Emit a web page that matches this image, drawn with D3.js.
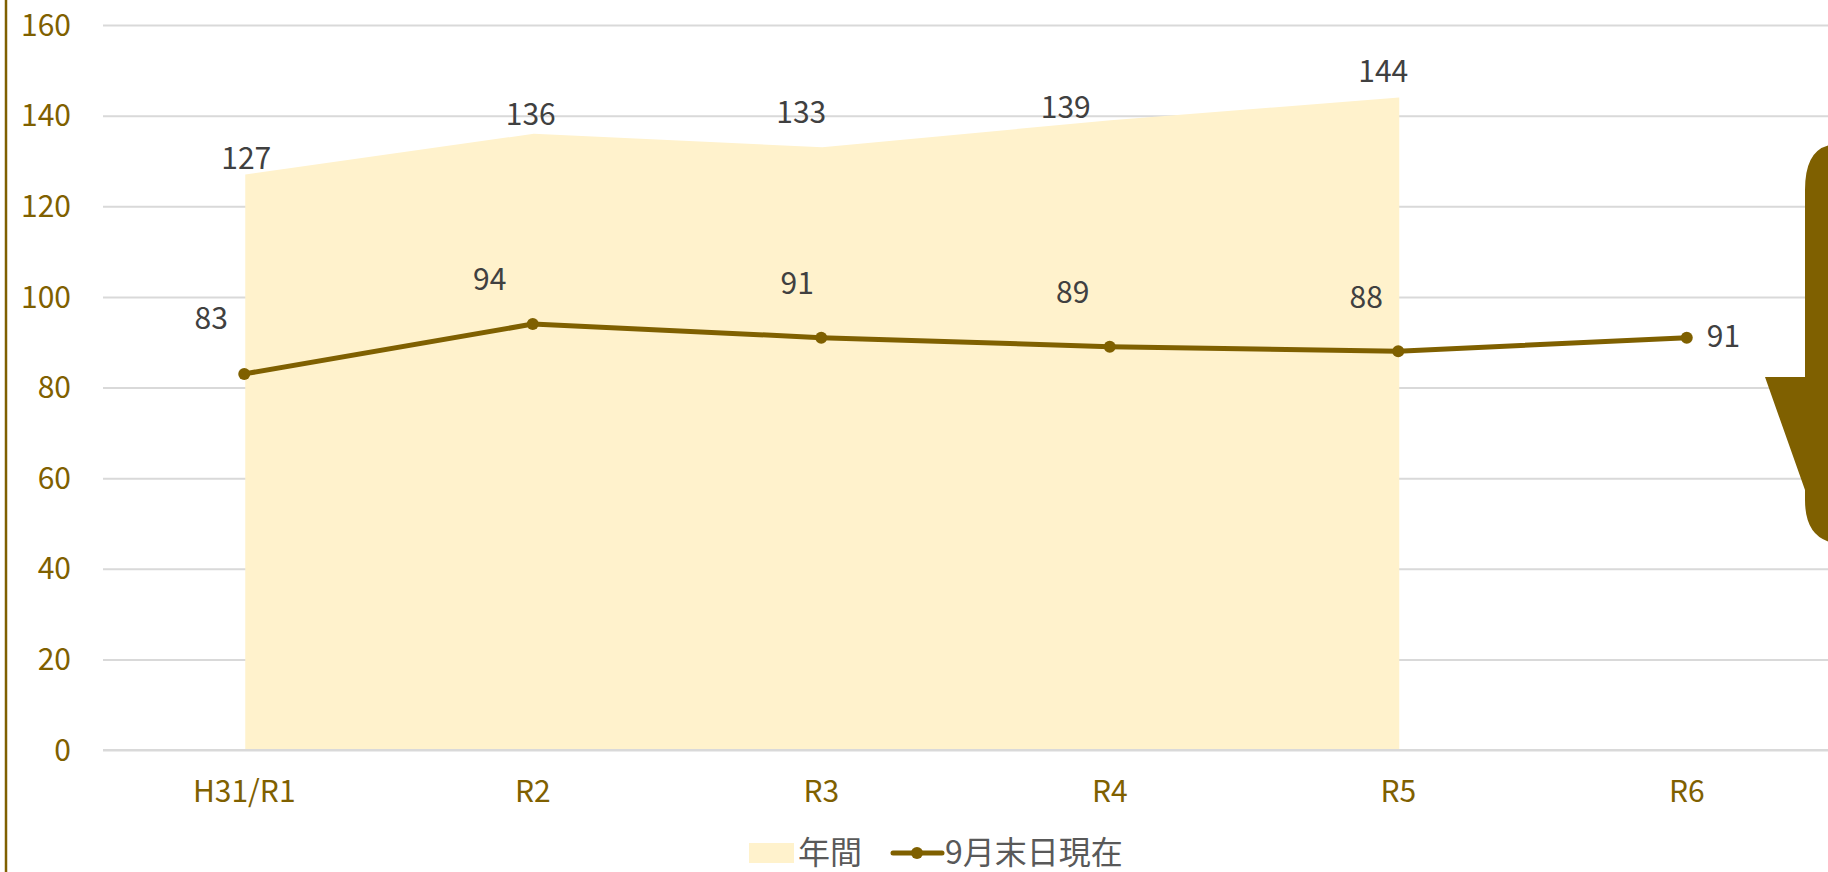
<!DOCTYPE html>
<html>
<head>
<meta charset="utf-8">
<script src="https://cdn.jsdelivr.net/npm/d3@7"></script>
<style>
  html, body { margin: 0; padding: 0; background: #ffffff; }
  svg { display: block; }
  text { font-family: "Noto Sans CJK JP", "Noto Sans", sans-serif; }
</style>
</head>
<body>
<svg id="chart" width="1828" height="872"></svg>
<script>
// ---- data ----
const categories = ["H31/R1", "R2", "R3", "R4", "R5", "R6"];
const annualValues = [127, 136, 133, 139, 144, null];
const septemberValues = [83, 94, 91, 89, 88, 91];
const yTicks = [0, 20, 40, 60, 80, 100, 120, 140, 160];
const seriesNames = ["年間", "9月末日現在"];

// ---- label placement (layout, not data) ----
const annualLabelOffsets = [[2, -6], [-2, -9], [-20, -24], [-44, -2], [-15, -16]];
const septLabelOffsets = [[-33, -45], [-43, -34], [-24, -44], [-37, -44], [-32, -43], [20, 9]];

// ---- colours ----
const gold = "#7F6000";
const areaFill = "#FFF2CC";
const gridColor = "#d9d9d9";
const labelColor = "#404040";
const legendColor = "#595959";

const svg = d3.select("#chart");

const x = d3.scaleBand().domain(categories).range([100, 1831]).padding(0);
const cx = c => x(c) + x.bandwidth() / 2;
const y = d3.scaleLinear().domain([0, 160]).range([750, 25]);

// left border line
svg.append("line")
  .attr("x1", 6).attr("x2", 6).attr("y1", 0).attr("y2", 872)
  .attr("stroke", gold).attr("stroke-width", 2.5);

// gridlines via axis
const yAxis = d3.axisLeft(y).tickValues(yTicks).tickSize(-(1840 - 103)).tickPadding(32);
const gy = svg.append("g").attr("transform", "translate(103,0)").call(yAxis);
gy.select(".domain").remove();
gy.selectAll(".tick line").attr("stroke", gridColor).attr("stroke-width", 2);
gy.selectAll(".tick text")
  .attr("fill", gold).attr("font-size", 30)
  .attr("dy", "0.34em")
  .style("font-family", '"Noto Sans CJK JP", "Noto Sans", sans-serif');

// area
const areaData = categories.map((c, i) => ({c, v: annualValues[i]})).filter(d => d.v != null);
const area = d3.area().x(d => cx(d.c) + 1).y0(y(0)).y1(d => y(d.v));
svg.append("path").datum(areaData).attr("d", area).attr("fill", areaFill);

// baseline gridline on top of the area
svg.append("line")
  .attr("x1", 103).attr("x2", 1840).attr("y1", y(0)).attr("y2", y(0))
  .attr("stroke", gridColor).attr("stroke-width", 2);

// x axis labels
const xAxis = d3.axisBottom(x).tickSize(0).tickPadding(0);
const gx = svg.append("g").attr("transform", "translate(0,802)").call(xAxis);
gx.select(".domain").remove();
gx.selectAll(".tick text")
  .attr("fill", gold).attr("font-size", 30).attr("dy", 0)
  .style("font-family", '"Noto Sans CJK JP", "Noto Sans", sans-serif');

// line series
const lineData = categories.map((c, i) => ({c, v: septemberValues[i]}));
const line = d3.line().x(d => cx(d.c)).y(d => y(d.v));
svg.append("path").datum(lineData).attr("d", line)
  .attr("fill", "none").attr("stroke", gold).attr("stroke-width", 5)
  .attr("stroke-linejoin", "round");
svg.selectAll("circle.pt").data(lineData).enter().append("circle")
  .attr("class", "pt")
  .attr("cx", d => cx(d.c)).attr("cy", d => y(d.v)).attr("r", 6)
  .attr("fill", gold);

// area labels
svg.selectAll("text.alab").data(areaData).enter().append("text")
  .attr("class", "alab")
  .attr("x", (d, i) => cx(d.c) + annualLabelOffsets[i][0])
  .attr("y", (d, i) => y(d.v) + annualLabelOffsets[i][1])
  .attr("text-anchor", "middle").attr("font-size", 30).attr("fill", labelColor)
  .text(d => d.v);

// line labels
svg.selectAll("text.llab").data(lineData).enter().append("text")
  .attr("class", "llab")
  .attr("x", (d, i) => cx(d.c) + septLabelOffsets[i][0])
  .attr("y", (d, i) => y(d.v) + septLabelOffsets[i][1])
  .attr("text-anchor", (d, i) => i === lineData.length - 1 ? "start" : "middle")
  .attr("font-size", 30).attr("fill", labelColor)
  .text(d => d.v);

// legend
const lg = svg.append("g");
lg.append("rect").attr("x", 749).attr("y", 843).attr("width", 45).attr("height", 20).attr("fill", areaFill);
lg.append("text").attr("x", 798).attr("y", 864).attr("font-size", 32).attr("fill", legendColor).text(seriesNames[0]);
lg.append("line").attr("x1", 893).attr("x2", 942).attr("y1", 853).attr("y2", 853)
  .attr("stroke", gold).attr("stroke-width", 5).attr("stroke-linecap", "round");
lg.append("circle").attr("cx", 917).attr("cy", 853).attr("r", 6).attr("fill", gold);
lg.append("text").attr("x", 945).attr("y", 864).attr("font-size", 32).attr("fill", legendColor).text(seriesNames[1]);

// decorative arrow shape on the right edge
const arrow = d3.path();
arrow.moveTo(1830, 145);
arrow.quadraticCurveTo(1805, 150, 1805, 190);
arrow.lineTo(1805, 377);
arrow.lineTo(1765, 377);
arrow.lineTo(1805, 490);
arrow.lineTo(1805, 500);
arrow.quadraticCurveTo(1805, 535, 1830, 542);
arrow.closePath();
svg.append("path").attr("d", arrow.toString()).attr("fill", gold);
</script>
</body>
</html>
